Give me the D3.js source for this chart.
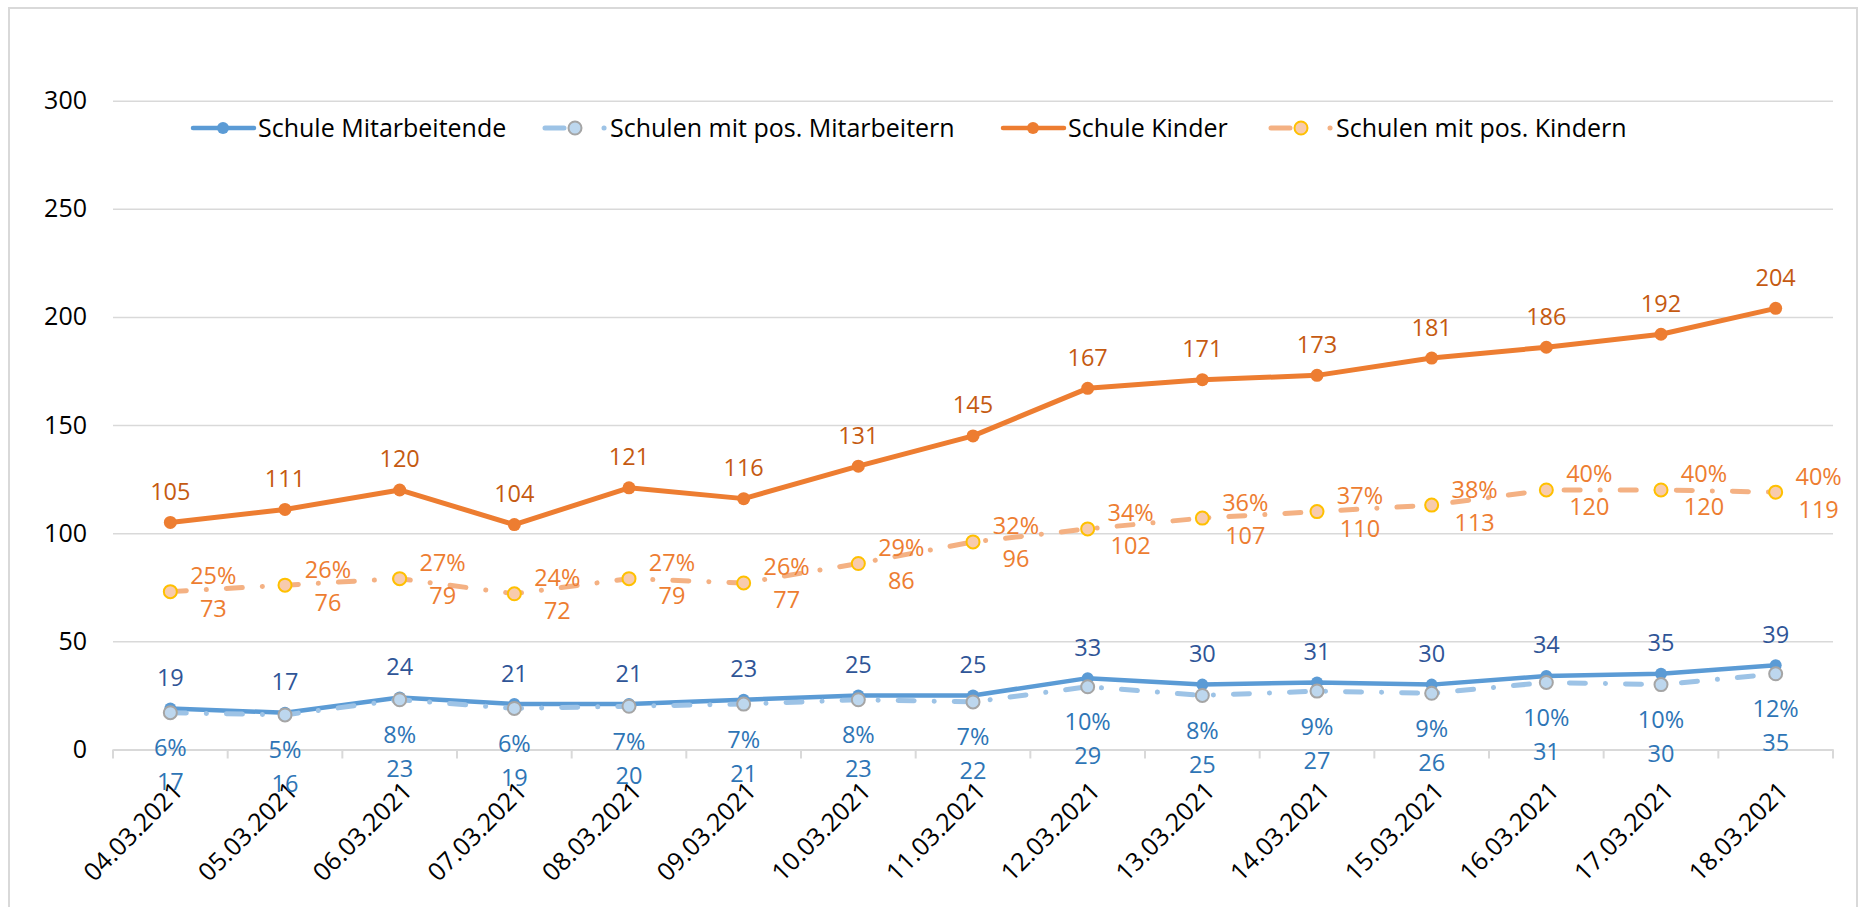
<!DOCTYPE html>
<html>
<head>
<meta charset="utf-8">
<script src="https://cdn.jsdelivr.net/npm/d3@7"></script>
<style>
  body { margin: 0; background: #fff; }
  svg { display: block; font-family: 'Open Sans', sans-serif; }
</style>
</head>
<body>
<svg id="chart" width="1859" height="907"></svg>
<script>
// Data
const dates = ['04.03.2021', '05.03.2021', '06.03.2021', '07.03.2021', '08.03.2021',
  '09.03.2021', '10.03.2021', '11.03.2021', '12.03.2021', '13.03.2021',
  '14.03.2021', '15.03.2021', '16.03.2021', '17.03.2021', '18.03.2021'];
const mitarbeitende = [19, 17, 24, 21, 21, 23, 25, 25, 33, 30, 31, 30, 34, 35, 39];
const posMitarbeitern = [17, 16, 23, 19, 20, 21, 23, 22, 29, 25, 27, 26, 31, 30, 35];
const posMitarbeiternPct = [6, 5, 8, 6, 7, 7, 8, 7, 10, 8, 9, 9, 10, 10, 12];
const kinder = [105, 111, 120, 104, 121, 116, 131, 145, 167, 171, 173, 181, 186, 192, 204];
const posKindern = [73, 76, 79, 72, 79, 77, 86, 96, 102, 107, 110, 113, 120, 120, 119];
const posKindernPct = [25, 26, 27, 24, 27, 26, 29, 32, 34, 36, 37, 38, 40, 40, 40];
const yTicks = [0, 50, 100, 150, 200, 250, 300];
const legendLabels = ['Schule Mitarbeitende', 'Schulen mit pos. Mitarbeitern', 'Schule Kinder', 'Schulen mit pos. Kindern'];

const svg = d3.select('#chart');
const grid = '#D9D9D9';
const dashDot = '16 20 0.1 20';

// frame
svg.append('rect')
  .attr('x', 9).attr('y', 8)
  .attr('width', 1848).attr('height', 920)
  .attr('fill', 'none').attr('stroke', grid).attr('stroke-width', 2);

const x = d3.scaleBand().domain(dates).range([113, 1833]);
const y = d3.scaleLinear().domain([0, 300]).range([749.5, 100.7]);
const cx = d => x(d) + x.bandwidth() / 2;

// y axis + gridlines
const yAxis = svg.append('g')
  .attr('transform', 'translate(113,0)')
  .call(d3.axisLeft(y).tickValues(yTicks).tickSize(-(1833 - 113)).tickPadding(26));
yAxis.select('.domain').remove();
yAxis.selectAll('line').attr('stroke', grid).attr('stroke-width', 1.5);
yAxis.selectAll('text').attr('font-size', 25).attr('fill', '#000').attr('font-family', 'Open Sans');

// x axis
const xAxis = svg.append('g')
  .attr('transform', `translate(0,${y(0)})`)
  .call(d3.axisBottom(x).tickSize(0).tickPadding(0));
xAxis.select('.domain').attr('stroke', grid).attr('stroke-width', 2);
xAxis.selectAll('text')
  .attr('font-size', 25).attr('fill', '#000').attr('font-family', 'Open Sans')
  .attr('text-anchor', 'end').attr('dy', 0).attr('y', 0)
  .attr('transform', 'translate(14,43) rotate(-45)');
xAxis.selectAll('.boundary')
  .data(d3.range(dates.length + 1))
  .join('line')
  .attr('x1', i => x.range()[0] + i * x.step())
  .attr('x2', i => x.range()[0] + i * x.step())
  .attr('y1', 0).attr('y2', 9)
  .attr('stroke', grid).attr('stroke-width', 2);

const line = d3.line().x((d, i) => cx(dates[i])).y(d => y(d));

function drawSeries(values, opts) {
  const g = svg.append('g');
  g.append('path')
    .attr('d', line(values))
    .attr('fill', 'none')
    .attr('stroke', opts.color)
    .attr('stroke-width', opts.width)
    .attr('stroke-linecap', 'round')
    .attr('stroke-linejoin', 'round')
    .attr('stroke-dasharray', opts.dash || null);
  g.selectAll('circle')
    .data(values)
    .join('circle')
    .attr('cx', (d, i) => cx(dates[i]))
    .attr('cy', d => y(d))
    .attr('r', opts.r)
    .attr('fill', opts.fill)
    .attr('stroke', opts.stroke || 'none')
    .attr('stroke-width', opts.strokeWidth || 0);
  return g;
}

function labels(values, lines, opts) {
  const g = svg.append('g')
    .attr('font-size', 23.5)
    .attr('fill', opts.color)
    .attr('text-anchor', 'middle');
  lines.forEach((fmt, k) => {
    g.selectAll(null)
      .data(values)
      .join('text')
      .attr('x', (d, i) => cx(dates[i]) + opts.dx)
      .attr('y', (d, i) => y(d) + opts.dy[k] + 8.5)
      .text((d, i) => fmt(d, i));
  });
}

drawSeries(mitarbeitende, { color: '#5B9BD5', width: 4.5, r: 6, fill: '#5B9BD5' });
drawSeries(posMitarbeitern, { color: '#9DC3E6', width: 5, dash: dashDot, r: 6.5, fill: '#BDD7EE', stroke: '#A5A5A5', strokeWidth: 2 });
drawSeries(kinder, { color: '#ED7D31', width: 5, r: 6.5, fill: '#ED7D31' });
drawSeries(posKindern, { color: '#F4B183', width: 5, dash: dashDot, r: 6.5, fill: '#F8CBAD', stroke: '#FFC000', strokeWidth: 2 });

labels(mitarbeitende, [d => d], { color: '#2F5597', dx: 0, dy: [-31] });
labels(posMitarbeitern, [(d, i) => posMitarbeiternPct[i] + '%', d => d], { color: '#2E75B6', dx: 0, dy: [35, 69] });
labels(kinder, [d => d], { color: '#C55A11', dx: 0, dy: [-31] });
labels(posKindern, [(d, i) => posKindernPct[i] + '%', d => d], { color: '#ED7D31', dx: 43, dy: [-16, 17] });

// legend
const legendY = 128;
const legendItems = [
  { x0: 193, color: '#5B9BD5', fill: '#5B9BD5', stroke: null, dashed: false },
  { x0: 545, color: '#9DC3E6', fill: '#BDD7EE', stroke: '#A5A5A5', dashed: true },
  { x0: 1003, color: '#ED7D31', fill: '#ED7D31', stroke: null, dashed: false },
  { x0: 1271, color: '#F4B183', fill: '#F8CBAD', stroke: '#FFC000', dashed: true }
];
const legend = svg.append('g');
legendItems.forEach((it, i) => {
  const g = legend.append('g').attr('transform', `translate(${it.x0},${legendY})`);
  g.append('line')
    .attr('x1', 0).attr('x2', 61).attr('y1', 0).attr('y2', 0)
    .attr('stroke', it.color)
    .attr('stroke-width', it.dashed ? 5 : 4.5)
    .attr('stroke-linecap', 'round')
    .attr('stroke-dasharray', it.dashed ? '19 40 0.1 100' : null);
  g.append('circle')
    .attr('cx', 30).attr('cy', 0)
    .attr('r', it.dashed ? 6.5 : 6)
    .attr('fill', it.fill)
    .attr('stroke', it.stroke || 'none')
    .attr('stroke-width', it.stroke ? 2 : 0);
  g.append('text')
    .attr('x', 65).attr('y', 9)
    .attr('font-size', 25)
    .attr('fill', '#000')
    .text(legendLabels[i]);
});
</script>
</body>
</html>
